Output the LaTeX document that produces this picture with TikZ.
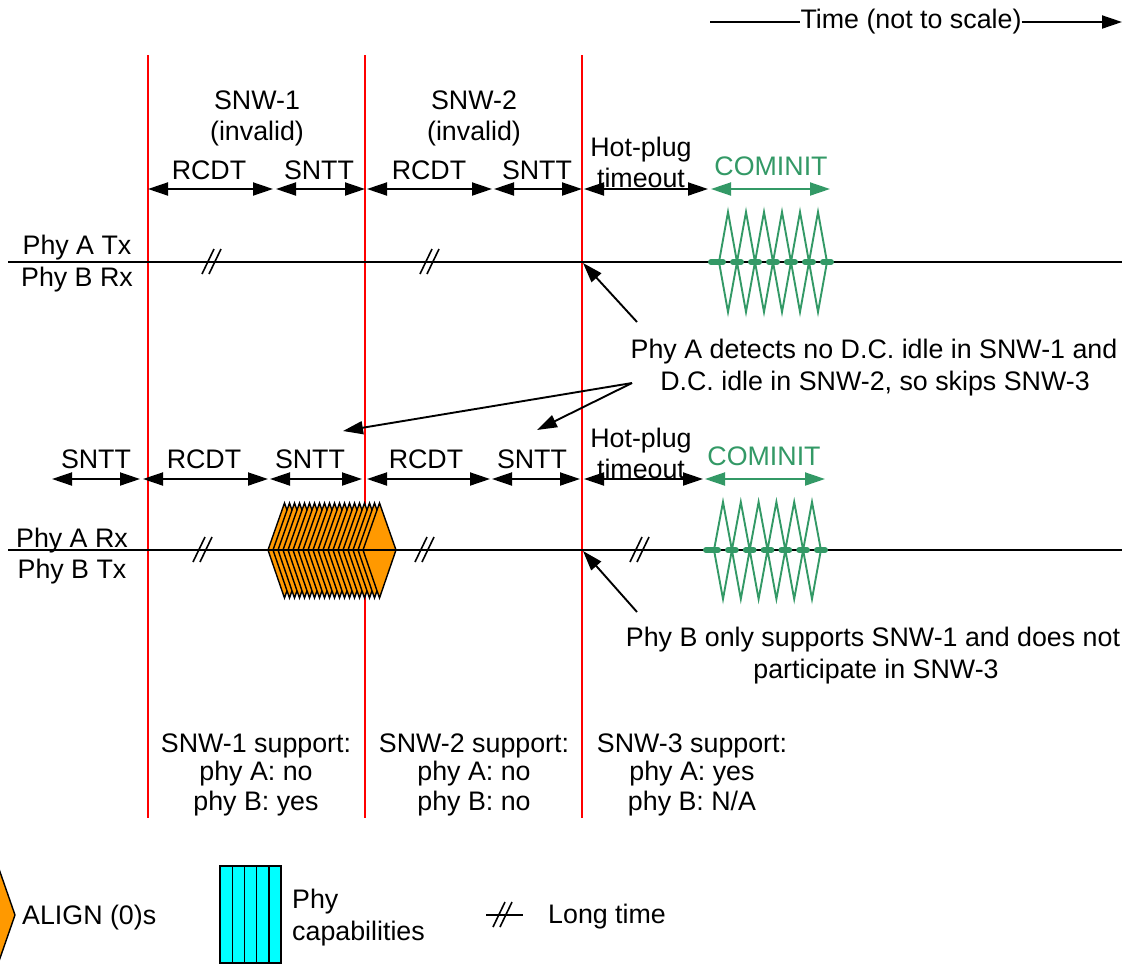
\documentclass[tikz,border=0pt]{standalone}
\usepackage{fontspec}
\setmainfont{Liberation Sans}
\usetikzlibrary{arrows.meta}
\definecolor{cgreen}{RGB}{51,153,102}
\definecolor{corange}{RGB}{255,153,0}
\definecolor{ccyan}{RGB}{0,255,255}
\definecolor{cred}{RGB}{255,0,0}
\begin{document}
\begin{tikzpicture}[x=1pt,y=-1pt,
  txt/.style={inner sep=0pt, anchor=base, font=\fontsize{26.8}{31}\selectfont},
  gtxt/.style={txt, text=cgreen},
  dim/.style={line width=1.9pt, {Triangle[length=20pt,width=13pt]}-{Triangle[length=20pt,width=13pt]}},
  gdim/.style={dim, draw=cgreen},
  ann/.style={line width=1.9pt, -{Triangle[length=20pt,width=13pt]}},
  sig/.style={line width=1.9pt},
  redl/.style={draw=cred, line width=1.8pt},
  gz/.style={draw=cgreen, line width=1.9pt, line join=miter},
  gthick/.style={draw=cgreen, line width=6pt, line cap=round},
  aligns/.style={fill=corange, draw=black, line width=1.4pt, line join=miter},
  capab/.style={fill=ccyan, draw=black, line width=1.4pt},
  pics/longtime/.style={code={\draw[line width=1.6pt] (-9,12)--(3,-13) (-2,12)--(10,-13);}}
]
\useasboundingbox (0,0) rectangle (1129,967);

% time arrow
\node[txt] (time) at (911,28) {Time (not to scale)};
\coordinate (tl) at (710,22);
\coordinate (tr) at (1122,22);
\draw[sig] (tl) -- (tl -| time.west);
\draw[ann] (tr -| time.east) -- (tr);

% red vertical lines
\foreach \x/\n in {148/ra,365/rb,582/rc}{
  \coordinate (\n t) at (\x,55);
  \coordinate (\n b) at (\x,818);
  \draw[redl] (\n t) -- (\n b);
}

% ---------- top row ----------
\node[txt] (snw1a) at (257,109) {SNW-1};
\node[txt] (snw1b) at (257,140) {(invalid)};
\node[txt] (snw2a) at (474,109) {SNW-2};
\node[txt] (snw2b) at (474,140) {(invalid)};
\node[txt] (rcdt1) at (209,179) {RCDT};
\node[txt] (sntt1) at (319,179) {SNTT};
\node[txt] (rcdt2) at (429,179) {RCDT};
\node[txt] (sntt2) at (537,179) {SNTT};
\node[txt] (hp1a) at (641,156) {Hot-plug};
\node[txt] (hp1b) at (641,187) {timeout};
\node[gtxt] (com1) at (771,175) {COMINIT};

\coordinate (t0) at (148,189);
\coordinate (t1) at (273,189);
\coordinate (t2) at (276,189);
\coordinate (t3) at (365,189);
\coordinate (t4) at (367,189);
\coordinate (t5) at (492,189);
\coordinate (t6) at (494,189);
\coordinate (t7) at (582,189);
\coordinate (t8) at (584,189);
\coordinate (t9) at (708,189);
\coordinate (t10) at (711,189);
\coordinate (t11) at (830,189);
\draw[dim] (t0) -- (t1);
\draw[dim] (t2) -- (t3);
\draw[dim] (t4) -- (t5);
\draw[dim] (t6) -- (t7);
\draw[dim] (t8) -- (t9);
\draw[gdim] (t10) -- (t11);

\node[txt] (patx) at (77,254) {Phy A Tx};
\node[txt] (pbrx) at (77,286) {Phy B Rx};
\coordinate (l1a) at (8,262);
\coordinate (l1b) at (1122,262);
\draw[sig] (l1a) -- (l1b);
\pic at (211,262) {longtime};
\pic at (429,262) {longtime};

% COMINIT burst top
\draw[gz] (719,262) \foreach \i in {0,...,5}{ -- ({728+18*\i},212) -- ({737+18*\i},262)};
\draw[gz] (719,262) \foreach \i in {0,...,5}{ -- ({728+18*\i},312) -- ({737+18*\i},262)};
\draw[gthick] (711,262) -- (723,262);
\foreach \i in {0,...,4} \draw[gthick] ({733+18*\i},262) -- ({741+18*\i},262);
\draw[gthick] (823,262) -- (831,262);

% annotation A
\node[txt] (noteA1) at (874,358) {Phy A detects no D.C. idle in SNW-1 and};
\node[txt] (noteA2) at (875,390) {D.C. idle in SNW-2, so skips SNW-3};
\coordinate (aA0) at (637,322);
\coordinate (aA1) at (583,263);
\draw[ann] (aA0) -- (aA1);
\coordinate (aB0) at (632,383);
\coordinate (aB1) at (343,431);
\coordinate (aB2) at (537,430);
\draw[ann] (aB0) -- (aB1);
\draw[ann] (aB0) -- (aB2);

% ---------- bottom row ----------
\node[txt] (sntt0b) at (96,468) {SNTT};
\node[txt] (rcdt1b) at (204,468) {RCDT};
\node[txt] (sntt1b) at (310,468) {SNTT};
\node[txt] (rcdt2b) at (426,468) {RCDT};
\node[txt] (sntt2b) at (532,468) {SNTT};
\node[txt] (hp2a) at (641,447) {Hot-plug};
\node[txt] (hp2b) at (641,478) {timeout};
\node[gtxt] (com2) at (764,465) {COMINIT};

\coordinate (b0) at (52,479);
\coordinate (b1) at (140,479);
\coordinate (b2) at (143,479);
\coordinate (b3) at (268,479);
\coordinate (b4) at (270,479);
\coordinate (b5) at (362,479);
\coordinate (b6) at (367,479);
\coordinate (b7) at (490,479);
\coordinate (b8) at (492,479);
\coordinate (b9) at (580,479);
\coordinate (b10) at (584,479);
\coordinate (b11) at (703,479);
\coordinate (b12) at (705,479);
\coordinate (b13) at (825,479);
\draw[dim] (b0) -- (b1);
\draw[dim] (b2) -- (b3);
\draw[dim] (b4) -- (b5);
\draw[dim] (b6) -- (b7);
\draw[dim] (b8) -- (b9);
\draw[dim] (b10) -- (b11);
\draw[gdim] (b12) -- (b13);

\node[txt] (parx) at (72,547) {Phy A Rx};
\node[txt] (pbtx) at (72,578) {Phy B Tx};

% ALIGN stack
\foreach \i in {0,...,19}
  \draw[aligns] ({268+5*\i},550) -- ({284.5+5*\i},503) -- ({301+5*\i},550) -- ({284.5+5*\i},598) -- cycle;

\coordinate (l2a) at (8,550);
\coordinate (l2b) at (1122,550);
\draw[sig] (l2a) -- (l2b);
\pic at (202,550) {longtime};
\pic at (424,550) {longtime};
\pic at (639,550) {longtime};

% COMINIT burst bottom
\draw[gz] (714,550) \foreach \i in {0,...,5}{ -- ({723+17.8*\i},502) -- ({731.9+17.8*\i},550)};
\draw[gz] (714,550) \foreach \i in {0,...,5}{ -- ({723+17.8*\i},599) -- ({731.9+17.8*\i},550)};
\draw[gthick] (706,550) -- (718,550);
\foreach \i in {0,...,4} \draw[gthick] ({728+17.8*\i},550) -- ({735.8+17.8*\i},550);
\draw[gthick] (817,550) -- (825,550);

% annotation B
\node[txt] (noteB1) at (873,646) {Phy B only supports SNW-1 and does not};
\node[txt] (noteB2) at (876,678) {participate in SNW-3};
\coordinate (aC0) at (637,612);
\coordinate (aC1) at (583,551);
\draw[ann] (aC0) -- (aC1);

% support texts
\node[txt] (s1a) at (256,752) {SNW-1 support:};
\node[txt] (s1b) at (256,780) {phy A: no};
\node[txt] (s1c) at (256,810) {phy B: yes};
\node[txt] (s2a) at (474,752) {SNW-2 support:};
\node[txt] (s2b) at (474,780) {phy A: no};
\node[txt] (s2c) at (474,810) {phy B: no};
\node[txt] (s3a) at (692,752) {SNW-3 support:};
\node[txt] (s3b) at (692,780) {phy A: yes};
\node[txt] (s3c) at (692,810) {phy B: N/A};

% ---------- legend ----------
\draw[aligns] (-18,915) -- (-1.5,867.5) -- (15,915) -- (-1.5,962.5) -- cycle;
\node[txt, anchor=base west] (lgalign) at (22,924) {ALIGN (0)s};
\foreach \i in {0,...,4}
  \draw[capab] ({220+12.2*\i},866) rectangle ++(12.2,97);
\node[txt, anchor=base west] (lgphy1) at (292,908) {Phy};
\node[txt, anchor=base west] (lgphy2) at (292,940) {capabilities};
\coordinate (lt0) at (486,915);
\coordinate (lt1) at (523,915);
\draw[sig] (lt0) -- (lt1);
\pic at (502,915) {longtime};
\node[txt, anchor=base west] (lglong) at (548,923) {Long time};
\end{tikzpicture}
\end{document}
